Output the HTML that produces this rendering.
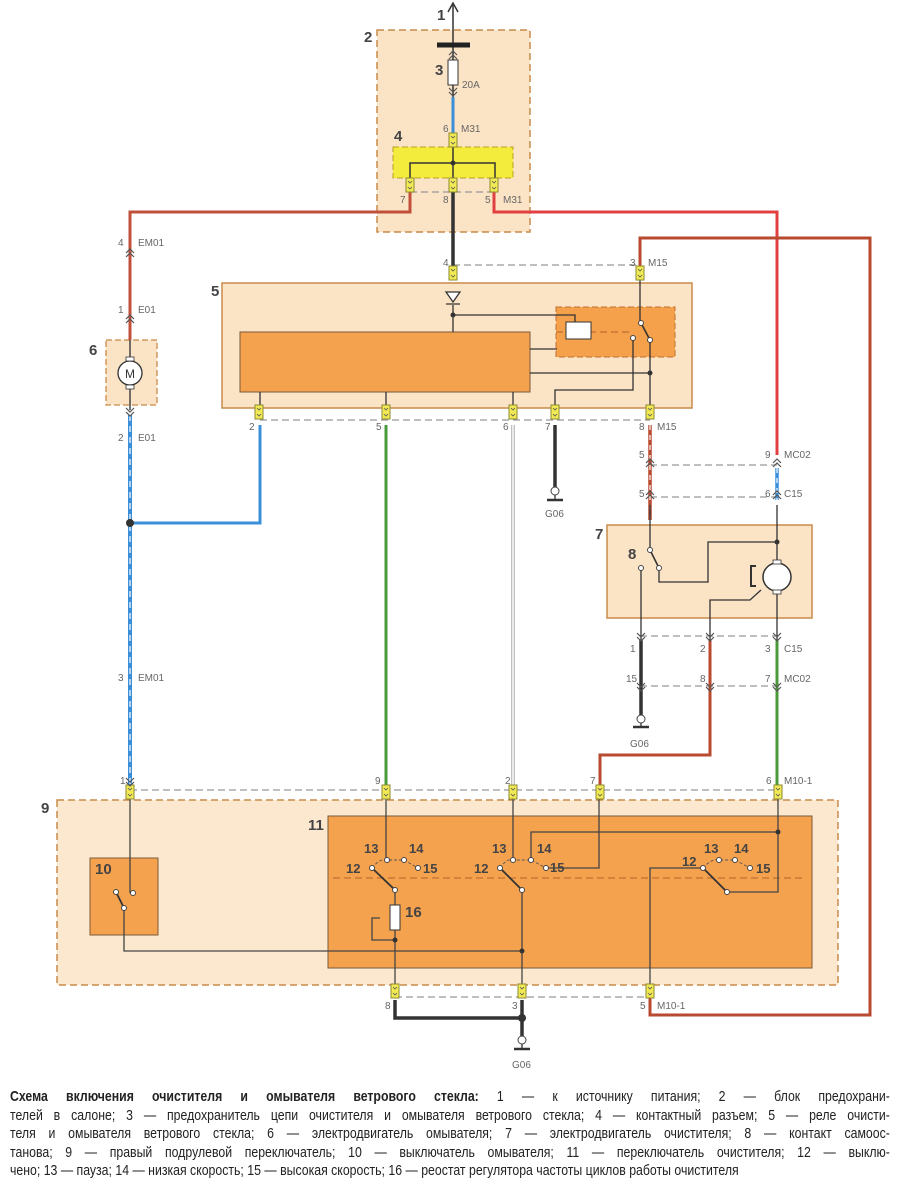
<!DOCTYPE html>
<html><head><meta charset="utf-8"><style>
html,body{margin:0;padding:0;background:#fff;width:900px;height:1186px;overflow:hidden}
svg{position:absolute;left:0;top:0}
.cap{position:absolute;left:10px;top:1088px;width:1073px;transform:scaleX(0.82);transform-origin:0 0;font-family:"Liberation Sans",sans-serif;font-size:15px;line-height:18.5px;color:#222}
.cap div{text-align:justify;text-align-last:justify;white-space:nowrap}
.cap div.l{text-align-last:left}
</style></head><body>
<svg width="900" height="1186" viewBox="0 0 900 1186" font-family="Liberation Sans, sans-serif">
<defs>
<g id="c"><rect x="-4" y="-7" width="8" height="14" fill="#f2ea55" stroke="#8a8a30" stroke-width="1"/><path d="M-2,-4 L0,-2 L2,-4 M-2,2 L0,4 L2,2" stroke="#555" fill="none" stroke-width="0.8"/></g>
<g id="au"><path d="M-4,3 L0,-1 L4,3 M-4,7 L0,3 L4,7" stroke="#555" fill="none" stroke-width="1.2"/></g>
<g id="ad"><path d="M-4,-3 L0,1 L4,-3 M-4,-7 L0,-3 L4,-7" stroke="#555" fill="none" stroke-width="1.2"/></g>
</defs>
<rect x="377" y="30" width="153" height="202" fill="#fbe3c6" stroke="#c98a4a" stroke-dasharray="7,4" stroke-width="1.5"/>
<rect x="393" y="147" width="120" height="31" fill="#f4ec3c" stroke="#b8a020" stroke-dasharray="6,3"/>
<rect x="222" y="283" width="470" height="125" fill="#fbe3c6" stroke="#c98a4a" stroke-width="1.5"/>
<rect x="556" y="307" width="119" height="50" fill="#f5a04b" stroke="#c07030" stroke-dasharray="6,3"/>
<rect x="240" y="332" width="290" height="60" fill="#f5a24f" stroke="#7a5a3a"/>
<rect x="106" y="340" width="51" height="65" fill="#fbe3c6" stroke="#c98a4a" stroke-dasharray="6,3" stroke-width="1.3"/>
<rect x="607" y="525" width="205" height="93" fill="#fbe3c6" stroke="#c98a4a" stroke-width="1.5"/>
<rect x="57" y="800" width="781" height="185" fill="#fce8cf" stroke="#c98a4a" stroke-dasharray="7,4" stroke-width="1.5"/>
<rect x="90" y="858" width="68" height="77" fill="#f5a24f" stroke="#7a5a3a"/>
<rect x="328" y="816" width="484" height="152" fill="#f5a24f" stroke="#7a5a3a"/>
<g stroke="#999" stroke-dasharray="7,4" fill="none" stroke-width="1.2">
<path d="M410,192H494 M453,265H640 M260,420H650 M650,465H777 M650,497H777 M640,636H777 M640,686H777 M130,790H777 M395,997H650"/>
<path d="M556,332H633" stroke="#c07030"/>
<path d="M333,878H805" stroke="#c07030"/>
</g>
<g fill="none" stroke-linejoin="miter">
<path d="M453,48V5" stroke="#333" stroke-width="1.5"/>
<path d="M448,12L453,3L458,12" stroke="#333" stroke-width="1.5"/>
<path d="M437,45H470" stroke="#222" stroke-width="5"/>
<path d="M453,48V60 M453,85V97" stroke="#333" stroke-width="1.5"/>
<path d="M453,97V135" stroke="#3a8fd8" stroke-width="3"/>
<path d="M453,140V183 M410,183V163H495V183" stroke="#333" stroke-width="1.5"/>
<path d="M410,190V212H130V340" stroke="#c0503a" stroke-width="3"/>
<path d="M494,190V212H777V455" stroke="#e24040" stroke-width="3"/>
<path d="M453,190V268" stroke="#333" stroke-width="3.5"/>
<path d="M640,268V238H870V1015H650V997" stroke="#b84a30" stroke-width="3"/>
<path d="M130,340V410" stroke="#444" stroke-width="1.5"/>
<path d="M130,415V785" stroke="#3a8fd8" stroke-width="4"/>
<path d="M130,415V785" stroke="#fff" stroke-width="1.2" stroke-dasharray="6,5"/>
<path d="M260,425V523H130" stroke="#3a8fd8" stroke-width="3"/>
<path d="M386,425V785" stroke="#4a9a3a" stroke-width="3"/>
<path d="M513,425V785" stroke="#aaa" stroke-width="3.5"/><path d="M513,425V785" stroke="#fff" stroke-width="1.5"/>
<path d="M555,425V487" stroke="#333" stroke-width="3.5"/>
<path d="M650,425V520" stroke="#b84a30" stroke-width="3.5"/><path d="M650,425V520" stroke="#fff" stroke-width="1.2" stroke-dasharray="5,5"/>
<path d="M777,468V500" stroke="#3a8fd8" stroke-width="3.5"/><path d="M777,468V500" stroke="#fff" stroke-width="1.2" stroke-dasharray="5,5"/>
<path d="M453,305V332 M453,315H575V322 M530,349H557 M530,373H650 M640,278V323 M650,340V405 M633,338V390H555V405 M260,392V405 M386,392V405 M513,392V405" stroke="#333" stroke-width="1.3"/>
<path d="M641,323L650,340" stroke="#333" stroke-width="1.6"/>
<path d="M650,505V550 M659,568V582H708V542H777 M777,505V564 M777,592V640 M641,568V640 M761,590L750,600H710V640" stroke="#333" stroke-width="1.3"/>
<path d="M650,550L659,568" stroke="#333" stroke-width="1.6"/>
<path d="M641,640V715" stroke="#333" stroke-width="3.5"/>
<path d="M710,640V755H600V785" stroke="#b84a30" stroke-width="3"/>
<path d="M777,640V785" stroke="#4a9a3a" stroke-width="3"/>
<path d="M130,795V893 M124,908V951H522 M386,795V860 M395,890V905 M395,930V995 M522,890V995 M513,795V860 M531,860V832H778 M778,795V892H727 M546,868H599V795 M703,868H650V995 M380,918H372V940H395" stroke="#444" stroke-width="1.3"/>
<path d="M116,892L124,908 M372,868L395,890 M500,868L522,890 M703,868L727,892" stroke="#333" stroke-width="1.8"/>
<path d="M372,868Q380,858 387,860L404,860L418,868 M500,868Q507,858 513,860L531,860L546,868 M703,868Q712,858 719,860L735,860L750,868" stroke="#555" stroke-width="0.9" stroke-dasharray="3,2"/>
<path d="M395,1000V1018H522 M522,1000V1036" stroke="#333" stroke-width="3.5"/>
</g>
<rect x="448" y="60" width="10" height="25" fill="#fff" stroke="#333"/>
<path d="M446,292H460L453,302Z M446,304H460" fill="#fff" stroke="#333" stroke-width="1.3"/>
<rect x="566" y="322" width="25" height="17" fill="#fff" stroke="#333"/>
<rect x="390" y="905" width="10" height="25" fill="#fff" stroke="#333"/>
<circle cx="130" cy="373" r="12" fill="#fff" stroke="#333" stroke-width="1.3"/>
<rect x="126" y="357" width="8" height="4" fill="#fff" stroke="#333" stroke-width=".8"/><rect x="126" y="385" width="8" height="4" fill="#fff" stroke="#333" stroke-width=".8"/>
<text x="130" y="378" font-size="12" text-anchor="middle" fill="#333">M</text>
<circle cx="777" cy="577" r="14" fill="#fff" stroke="#333" stroke-width="1.5"/>
<rect x="773" y="560" width="8" height="4" fill="#fff" stroke="#333" stroke-width=".8"/><rect x="773" y="590" width="8" height="4" fill="#fff" stroke="#333" stroke-width=".8"/>
<path d="M756,566H751V586H756" fill="none" stroke="#333" stroke-width="2"/>
<g fill="#333"><circle cx="453" cy="163" r="2.5"/><circle cx="453" cy="315" r="2.5"/><circle cx="650" cy="373" r="2.5"/><circle cx="130" cy="523" r="4"/><circle cx="777" cy="542" r="2.5"/><circle cx="778" cy="832" r="2.5"/><circle cx="395" cy="940" r="2.5"/><circle cx="522" cy="951" r="2.5"/><circle cx="522" cy="1018" r="4"/></g>
<g fill="#fff" stroke="#444" stroke-width="1"><circle cx="641" cy="323" r="2.5"/><circle cx="650" cy="340" r="2.5"/><circle cx="633" cy="338" r="2.5"/><circle cx="650" cy="550" r="2.5"/><circle cx="659" cy="568" r="2.5"/><circle cx="641" cy="568" r="2.5"/><circle cx="133" cy="893" r="2.5"/><circle cx="116" cy="892" r="2.5"/><circle cx="124" cy="908" r="2.5"/>
<circle cx="372" cy="868" r="2.5"/><circle cx="387" cy="860" r="2.5"/><circle cx="404" cy="860" r="2.5"/><circle cx="418" cy="868" r="2.5"/><circle cx="395" cy="890" r="2.5"/>
<circle cx="500" cy="868" r="2.5"/><circle cx="513" cy="860" r="2.5"/><circle cx="531" cy="860" r="2.5"/><circle cx="546" cy="868" r="2.5"/><circle cx="522" cy="890" r="2.5"/>
<circle cx="703" cy="868" r="2.5"/><circle cx="719" cy="860" r="2.5"/><circle cx="735" cy="860" r="2.5"/><circle cx="750" cy="868" r="2.5"/><circle cx="727" cy="892" r="2.5"/>
<circle cx="555" cy="491" r="4"/><circle cx="641" cy="719" r="4"/><circle cx="522" cy="1040" r="4"/></g>
<path d="M547,500H563 M633,727H649 M514,1049H530" stroke="#333" stroke-width="2.5"/>
<path d="M555,495V500 M641,723V727 M522,1044V1049" stroke="#333" stroke-width="1.3"/>
<use href="#c" x="453" y="140"/><use href="#c" x="410" y="185"/><use href="#c" x="453" y="185"/><use href="#c" x="494" y="185"/>
<use href="#c" x="453" y="273"/><use href="#c" x="640" y="273"/>
<use href="#c" x="259" y="412"/><use href="#c" x="386" y="412"/><use href="#c" x="513" y="412"/><use href="#c" x="555" y="412"/><use href="#c" x="650" y="412"/>
<use href="#c" x="130" y="792"/><use href="#c" x="386" y="792"/><use href="#c" x="513" y="792"/><use href="#c" x="600" y="792"/><use href="#c" x="778" y="792"/>
<use href="#c" x="395" y="991"/><use href="#c" x="522" y="991"/><use href="#c" x="650" y="991"/>
<use href="#au" x="453" y="52"/><use href="#ad" x="453" y="95"/>
<use href="#au" x="130" y="250"/><use href="#au" x="130" y="316"/><use href="#ad" x="130" y="415"/><use href="#ad" x="130" y="785"/>
<use href="#au" x="650" y="460"/><use href="#au" x="650" y="492"/><use href="#au" x="777" y="460"/><use href="#au" x="777" y="492"/>
<use href="#ad" x="641" y="640"/><use href="#ad" x="710" y="640"/><use href="#ad" x="777" y="640"/>
<use href="#ad" x="641" y="690"/><use href="#ad" x="710" y="690"/><use href="#ad" x="777" y="690"/>
<g font-weight="bold" font-size="15" fill="#444">
<text x="437" y="20">1</text><text x="364" y="42">2</text><text x="435" y="75">3</text><text x="394" y="141">4</text><text x="211" y="296">5</text><text x="89" y="355">6</text><text x="595" y="539">7</text><text x="628" y="559">8</text><text x="41" y="813">9</text><text x="95" y="874">10</text><text x="308" y="830">11</text><text x="405" y="917">16</text>
</g>
<g font-weight="bold" font-size="13" fill="#444">
<text x="364" y="853">13</text><text x="409" y="853">14</text><text x="423" y="873">15</text><text x="346" y="873">12</text>
<text x="492" y="853">13</text><text x="537" y="853">14</text><text x="550" y="872">15</text><text x="474" y="873">12</text>
<text x="704" y="853">13</text><text x="734" y="853">14</text><text x="756" y="873">15</text><text x="682" y="866">12</text>
</g>
<g font-size="10" fill="#666">
<text x="462" y="88">20A</text>
<text x="443" y="132">6</text><text x="461" y="132">M31</text>
<text x="400" y="203">7</text><text x="443" y="203">8</text><text x="485" y="203">5</text><text x="503" y="203">M31</text>
<text x="443" y="266">4</text><text x="630" y="266">3</text><text x="648" y="266">M15</text>
<text x="118" y="246">4</text><text x="138" y="246">EM01</text><text x="118" y="313">1</text><text x="138" y="313">E01</text>
<text x="118" y="441">2</text><text x="138" y="441">E01</text><text x="118" y="681">3</text><text x="138" y="681">EM01</text>
<text x="249" y="430">2</text><text x="376" y="430">5</text><text x="503" y="430">6</text><text x="545" y="430">7</text><text x="639" y="430">8</text><text x="657" y="430">M15</text>
<text x="545" y="517">G06</text>
<text x="639" y="458">5</text><text x="639" y="497">5</text><text x="765" y="458">9</text><text x="784" y="458">MC02</text><text x="765" y="497">6</text><text x="784" y="497">C15</text>
<text x="630" y="652">1</text><text x="700" y="652">2</text><text x="765" y="652">3</text><text x="784" y="652">C15</text>
<text x="626" y="682">15</text><text x="700" y="682">8</text><text x="765" y="682">7</text><text x="784" y="682">MC02</text>
<text x="630" y="747">G06</text>
<text x="120" y="784">1</text><text x="375" y="784">9</text><text x="505" y="784">2</text><text x="590" y="784">7</text><text x="766" y="784">6</text><text x="784" y="784">M10-1</text>
<text x="385" y="1009">8</text><text x="512" y="1009">3</text><text x="640" y="1009">5</text><text x="657" y="1009">M10-1</text>
<text x="512" y="1068">G06</text>
</g>
</svg>
<div class="cap">
<div><b>Схема включения очистителя и омывателя ветрового стекла:</b> 1 — к источнику питания; 2 — блок предохрани-</div>
<div>телей в салоне; 3 — предохранитель цепи очистителя и омывателя ветрового стекла; 4 — контактный разъем; 5 — реле очисти-</div>
<div>теля и омывателя ветрового стекла; 6 — электродвигатель омывателя; 7 — электродвигатель очистителя; 8 — контакт самоос-</div>
<div>танова; 9 — правый подрулевой переключатель; 10 — выключатель омывателя; 11 — переключатель очистителя; 12 — выклю-</div>
<div class="l">чено; 13 — пауза; 14 — низкая скорость; 15 — высокая скорость; 16 — реостат регулятора частоты циклов работы очистителя</div>
</div>
</body></html>
